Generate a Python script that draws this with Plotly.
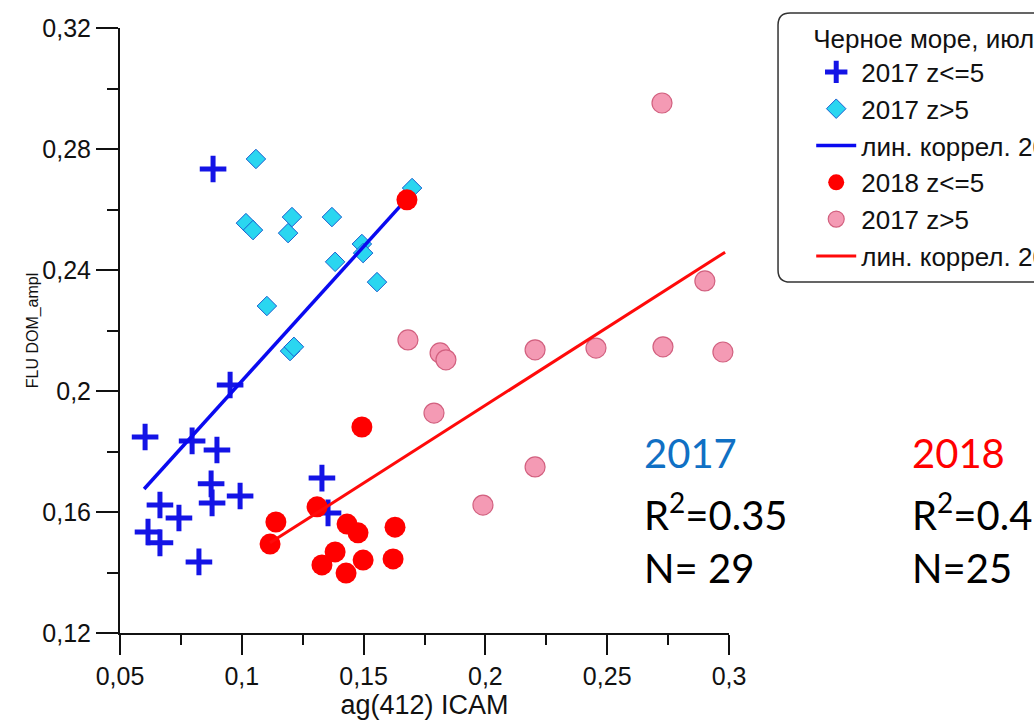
import plotly.graph_objects as go

# ---- data ----
x_2017_shallow = [0.0882, 0.0952, 0.0603, 0.0796, 0.0898, 0.0874, 0.0993, 0.0878,
                  0.0664, 0.0742, 0.0615, 0.0664, 0.0824, 0.1329, 0.1354]
y_2017_shallow = [0.2734, 0.2020, 0.1848, 0.1835, 0.1805, 0.1693, 0.1653, 0.1630,
                  0.1623, 0.1580, 0.1534, 0.1498, 0.1435, 0.1712, 0.1597]

x_2017_deep = [0.1058, 0.1017, 0.1046, 0.1206, 0.1190, 0.1370, 0.1383, 0.1493,
               0.1498, 0.1555, 0.1103, 0.1198, 0.1214, 0.1699]
y_2017_deep = [0.2767, 0.2555, 0.2532, 0.2575, 0.2522, 0.2575, 0.2427, 0.2486,
               0.2456, 0.2360, 0.2281, 0.2132, 0.2146, 0.2671]

x_2018_shallow = [0.1493, 0.1140, 0.1116, 0.1309, 0.1432, 0.1477, 0.1629, 0.1383,
                  0.1329, 0.1428, 0.1498, 0.1621, 0.1678]
y_2018_shallow = [0.1881, 0.1567, 0.1494, 0.1617, 0.1560, 0.1531, 0.1550, 0.1468,
                  0.1425, 0.1398, 0.1441, 0.1445, 0.2632]

x_2018_deep = [0.2725, 0.1682, 0.1814, 0.1838, 0.2204, 0.2454, 0.2729, 0.2975,
               0.2901, 0.1789, 0.2204, 0.1990]
y_2018_deep = [0.2952, 0.2169, 0.2126, 0.2103, 0.2136, 0.2142, 0.2146, 0.2129,
               0.2364, 0.1927, 0.1749, 0.1623]

fit_2017_x = [0.0599, 0.1666]
fit_2017_y = [0.1676, 0.2625]
fit_2018_x = [0.1116, 0.2984]
fit_2018_y = [0.1498, 0.2459]

x_tickvals = [0.05, 0.1, 0.15, 0.2, 0.25, 0.3]
x_ticktext = ["0,05", "0,1", "0,15", "0,2", "0,25", "0,3"]
y_tickvals = [0.12, 0.16, 0.2, 0.24, 0.28, 0.32]
y_ticktext = ["0,12", "0,16", "0,2", "0,24", "0,28", "0,32"]

names = ["2017 z<=5", "2017 z>5", "лин. коррел. 2017",
         "2018 z<=5", "2017 z>5", "лин. коррел. 2018"]
legend_title = "Черное море, июль"

stats_2017 = ["2017", "R<sup>2</sup>=0.35", "N= 29"]
stats_2018 = ["2018", "R<sup>2</sup>=0.4", "N=25"]

# ---- figure ----
fig = go.Figure()

fig.add_trace(go.Scatter(
    x=x_2017_shallow, y=y_2017_shallow, mode="markers", name=names[0],
    marker=dict(symbol="cross-thin", size=19, line=dict(width=5, color="#1414e6")),
    cliponaxis=False))
fig.add_trace(go.Scatter(
    x=x_2017_deep, y=y_2017_deep, mode="markers", name=names[1],
    marker=dict(symbol="diamond", size=15, color="#2ad6f0",
                line=dict(width=1, color="#1a5fd0")),
    cliponaxis=False))
fig.add_trace(go.Scatter(
    x=fit_2017_x, y=fit_2017_y, mode="lines", name=names[2],
    line=dict(color="#0a0af0", width=3.5)))
fig.add_trace(go.Scatter(
    x=x_2018_shallow, y=y_2018_shallow, mode="markers", name=names[3],
    marker=dict(symbol="circle", size=21, color="#ff0000",
                line=dict(width=0)),
    cliponaxis=False))
fig.add_trace(go.Scatter(
    x=x_2018_deep, y=y_2018_deep, mode="markers", name=names[4],
    marker=dict(symbol="circle", size=20, color="#f49ab4",
                line=dict(width=1.2, color="#d2607f")),
    cliponaxis=False))
fig.add_trace(go.Scatter(
    x=fit_2018_x, y=fit_2018_y, mode="lines", name=names[5],
    line=dict(color="#ff0a0a", width=3)))

axis_font = dict(family="Liberation Sans, Arial, sans-serif", size=25, color="#111")

fig.update_xaxes(
    range=[0.05, 0.3], tickvals=x_tickvals, ticktext=x_ticktext,
    showgrid=False, zeroline=False, showline=True, linecolor="#111", linewidth=2,
    ticks="outside", ticklen=20, tickwidth=2, tickcolor="#111",
    minor=dict(ticks="outside", ticklen=10, tickwidth=2, tickcolor="#111", dtick=0.025),
    tickfont=axis_font,
    title=dict(text="ag(412) ICAM", font=dict(family="Liberation Sans, Arial, sans-serif",
                                              size=27, color="#111"), standoff=0))
fig.update_yaxes(
    range=[0.12, 0.32], tickvals=y_tickvals, ticktext=y_ticktext,
    showgrid=False, zeroline=False, showline=True, linecolor="#111", linewidth=2,
    ticks="outside", ticklen=22, tickwidth=2, tickcolor="#111",
    minor=dict(ticks="outside", ticklen=11, tickwidth=2, tickcolor="#111", dtick=0.02),
    tickfont=axis_font,
    title=dict(text="FLU DOM_ampl", font=dict(family="Liberation Sans, Arial, sans-serif",
                                              size=16, color="#111"), standoff=0))

# stats annotations
ann_font = dict(family="Lato, Carlito, sans-serif", size=40)
rows_y = [0.298, 0.2, 0.107]
for i, txt in enumerate(stats_2017):
    fig.add_annotation(x=0.857, y=rows_y[i], xref="paper", yref="paper", text=txt,
                       showarrow=False, xanchor="left", yanchor="middle",
                       font=dict(ann_font, color="#1070c4" if i == 0 else "#000"))
for i, txt in enumerate(stats_2018):
    fig.add_annotation(x=1.297, y=rows_y[i], xref="paper", yref="paper", text=txt,
                       showarrow=False, xanchor="left", yanchor="middle",
                       font=dict(ann_font, color="#ff0000" if i == 0 else "#000"))

# rounded legend frame (left part; right side runs off the page)
x0, x1 = 1.0805, 1.8
yb, yt = 0.5802, 1.0248
rx, ry = 0.02, 0.02
fig.add_shape(type="path", xref="paper", yref="paper",
              path=(f"M {x1},{yt} L {x0+rx},{yt} Q {x0},{yt} {x0},{yt-ry} "
                    f"L {x0},{yb+ry} Q {x0},{yb} {x0+rx},{yb} L {x1},{yb}"),
              line=dict(color="#333", width=1.5))

fig.update_layout(
    width=1034, height=723,
    paper_bgcolor="white", plot_bgcolor="white",
    margin=dict(l=120, r=305, t=28, b=90, autoexpand=False),
    showlegend=True,
    legend=dict(
        x=1.135, y=1.022, xanchor="left", yanchor="top",
        bgcolor="rgba(0,0,0,0)", borderwidth=0,
        font=dict(family="Liberation Sans, Arial, sans-serif", size=26, color="#111"),
        title=dict(text=legend_title, font=dict(family="Liberation Sans, Arial, sans-serif",
                                                 size=26, color="#111")),
        itemwidth=40,
    ),
)

fig.write_html("out.html")
